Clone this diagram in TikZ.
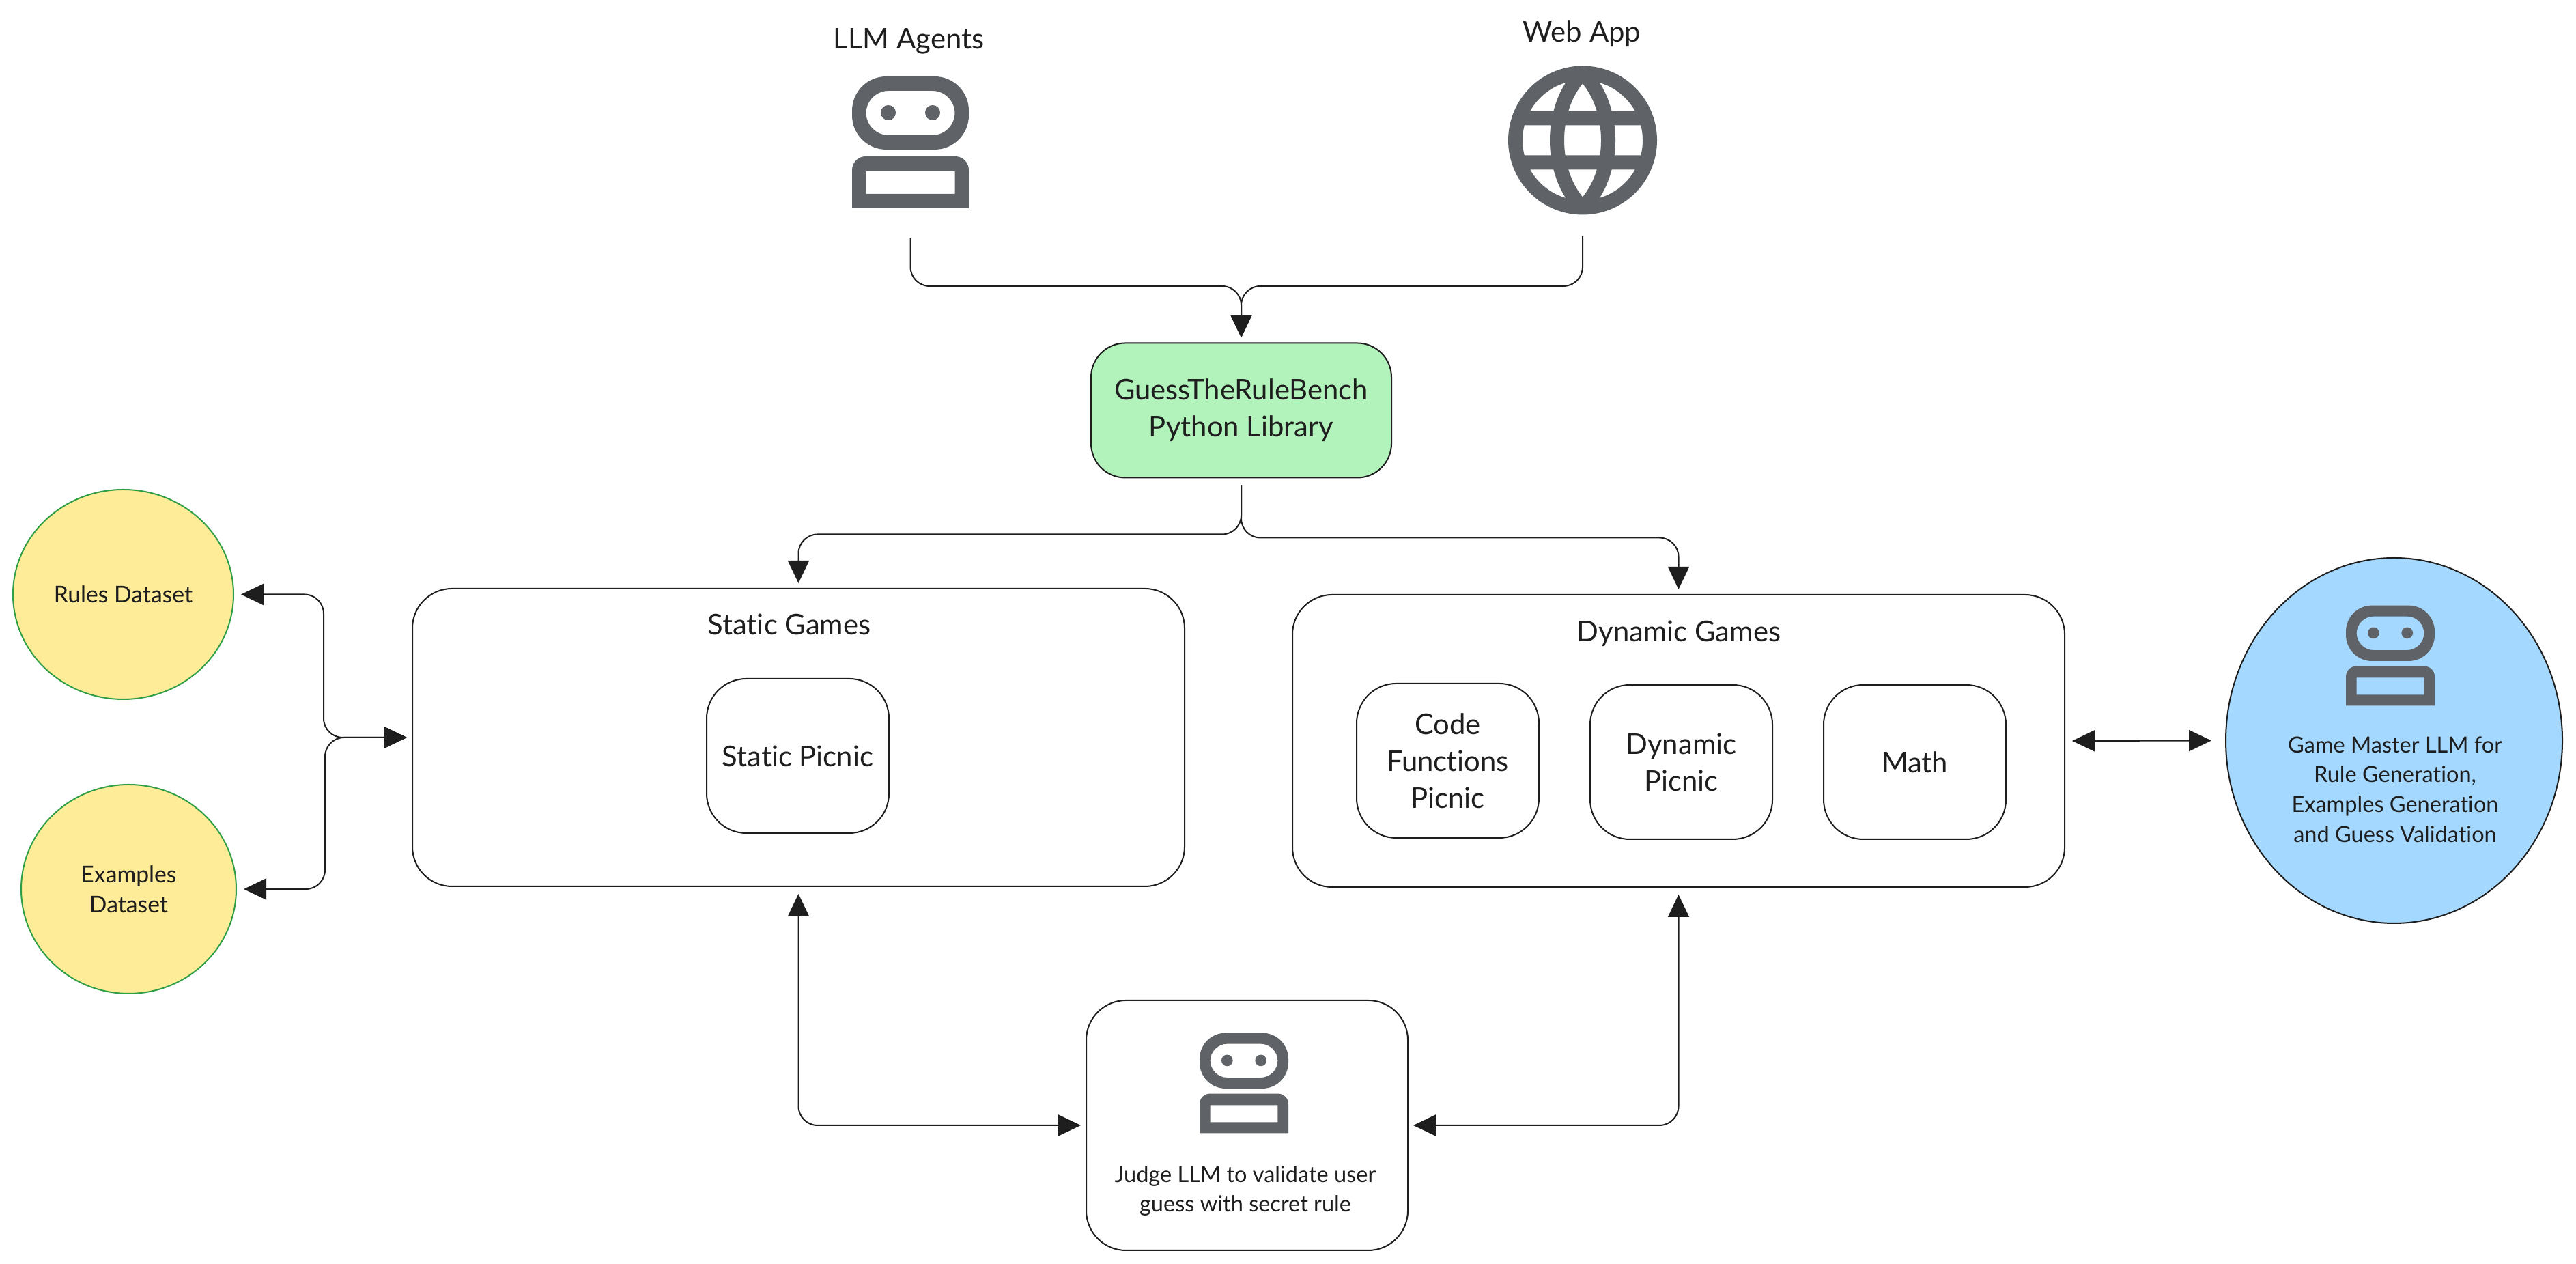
\documentclass[tikz,border=0pt]{standalone}
\usepackage{fontspec}
\setmainfont[Ligatures=NoCommon]{Lato}
\usetikzlibrary{shapes.geometric,arrows.meta,positioning}
\definecolor{inkblack}{HTML}{1E1E1E}
\definecolor{icongray}{HTML}{5F6368}
\definecolor{libgreen}{HTML}{B2F2BB}
\definecolor{dataedge}{HTML}{2F9E44}
\definecolor{datayellow}{HTML}{FFEC99}
\definecolor{masterblue}{HTML}{A5D8FF}
\tikzset{
  bigtext/.style={font=\fontsize{11.9}{15.4}\selectfont,text=inkblack,align=center},
  smalltext/.style={font=\fontsize{9.6}{12.4}\selectfont,text=inkblack,align=center},
  fineprint/.style={font=\fontsize{9.25}{12.4}\selectfont,text=inkblack,align=center},
  roundbox/.style={draw=inkblack,line width=.02cm,rounded corners=.58cm,inner sep=0pt},
  gamebox/.style={roundbox,minimum width=2.67cm,minimum height=2.26cm,bigtext},
  databall/.style={ellipse,draw=dataedge,fill=datayellow,line width=.02cm,inner sep=0pt,smalltext},
  iconspot/.style={minimum width=1.71cm,minimum height=1.93cm,inner sep=0pt,outer sep=.34cm},
  pics/robot/.style={code={
    \fill[icongray,even odd rule,scale=#1]
      [rounded corners={#1*.5cm}] (-.855,-.105) rectangle (.855,.965)
      [rounded corners={#1*.33cm}] (-.65,.105) rectangle (.65,.755)
      [sharp corners] (-.325,.435) circle (.11) (.325,.435) circle (.11)
      (-.855,-.965) [rounded corners={#1*.2cm}] -- (-.855,-.205) -- (.855,-.205)
      [sharp corners] -- (.855,-.965) -- cycle
      (-.65,-.755) rectangle (.65,-.425);
  }},
  pics/globe/.style={code={
    \draw[icongray,line width=.21cm,line join=round] (0,0) circle (.985)
      (0,-.985) .. controls (-.5,-.5) and (-.5,.5) .. (0,.985)
      .. controls (.5,.5) and (.5,-.5) .. (0,-.985)
      (-.93,.325) -- (.93,.325) (-.93,-.325) -- (.93,-.325);
  }}
}
\begin{document}
\begin{tikzpicture}[shorten >=.07cm, shorten <=.1cm]
   \useasboundingbox (0,0) rectangle (37.73,18.51);
   % icons on top
   \node (agents) [iconspot] at (13.335,16.425) {};
   \node (web) [iconspot,minimum width=2.18cm,minimum height=2.19cm,outer sep=.21cm] at (23.18,16.455) {};
   \pic at (agents) {robot=1};
   \pic at (web) {globe};
   \node (agentsText) [bigtext,anchor=base] at (13.31,17.79) {LLM Agents};
   \node (webText) [bigtext,anchor=base] at (23.17,17.89) {Web App};
   % main boxes
   \node (lib) [roundbox,fill=libgreen,minimum width=4.4cm,minimum height=1.97cm,bigtext,rounded corners=.5cm] at (18.18,12.5) {GuessTheRuleBench\\Python Library};
   \node (static) [roundbox,minimum width=11.31cm,minimum height=4.36cm] at (11.695,7.71) {};
   \node (dynamic) [roundbox,minimum width=11.31cm,minimum height=4.28cm] at (24.585,7.66) {};
   \node (staticText) [bigtext] at (11.56,9.37) {Static Games};
   \node (dynamicText) [bigtext] at (24.59,9.23) {Dynamic Games};
   \begin{scope}[every node/.style={gamebox}]
    \node (staticPicnic) at (11.685,7.44) {Static Picnic};
    \node (codePicnic) at (21.205,7.37) {Code\\Functions\\Picnic};
    \node (dynamicPicnic) at (24.625,7.35) {Dynamic\\Picnic};
    \node (math) at (28.045,7.35) {Math};
   \end{scope}
   % datasets, judge and game master
   \node (rules) [databall,minimum width=3.23cm,minimum height=3.07cm] at (1.805,9.805) {Rules Dataset};
   \node (examples) [databall,minimum width=3.15cm,minimum height=3.06cm] at (1.885,5.49) {Examples\\Dataset};
   \node (judge) [roundbox,minimum width=4.71cm,minimum height=3.66cm] at (18.265,2.03) {};
   \pic at (18.22,2.65) {robot=.76};
   \node (judgeText) [fineprint] at (18.24,1.07) {Judge LLM to validate user\\guess with secret rule};
   \node (master) [ellipse,draw=inkblack,fill=masterblue,line width=.02cm,minimum width=4.93cm,minimum height=5.35cm,inner sep=0pt] at (35.065,7.665) {};
   \pic at (35.01,8.91) {robot=.76};
   \node (masterText) [fineprint] at (35.08,6.95) {Game Master LLM for\\Rule Generation,\\Examples Generation\\and Guess Validation};
   % connectors
   \begin{scope}[inkblack,line width=.02cm,rounded corners=.28cm,>={Triangle[length=.33cm,width=.31cm]}]
    \draw[->] (agents.south) -- ++(0,-.8) -| (lib.north);
    \draw[->] (web.south) -- ++(0,-.83) -| (lib.north);
    \draw[->] (lib.south) -- ++(0,-.82) -| (static.north);
    \draw[->] (lib.south) -- ++(0,-.87) -| (dynamic.north);
    \draw[<->] (rules.east) -- ++(1.31,0) |- (static.west);
    \draw[<->] (examples.east) -- ++(1.29,0) |- (static.west);
    \draw[<->] (static.south) |- (judge.west);
    \draw[<->] (dynamic.south) |- (judge.east);
    \draw[<->,shorten >=.2cm] (dynamic.east) -- (master.west);
   \end{scope}
\end{tikzpicture}
\end{document}
